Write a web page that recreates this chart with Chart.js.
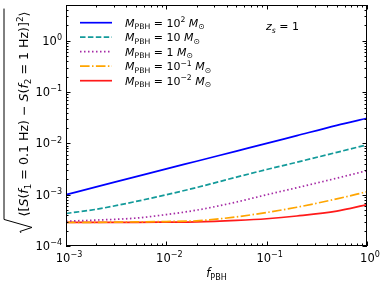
<!DOCTYPE html>
<html>
<head>
<meta charset="utf-8">
<script src="https://cdn.jsdelivr.net/npm/chart.js@4.4.1/dist/chart.umd.min.js"></script>
<style>
  html, body { margin: 0; padding: 0; background: #fff; }
  #wrap { width: 382px; height: 284px; }
</style>
</head>
<body>
<div id="wrap"><canvas id="c" width="382" height="284"></canvas></div>
<script>
// f_PBH sample points and curves
const fPBH = [1e-3, 2e-3, 5e-3, 1e-2, 2e-2, 5e-2, 0.1, 0.2, 0.5, 1];

const m100  = [1.0e-3, 1.42e-3, 2.25e-3, 3.2e-3, 4.5e-3, 7.1e-3, 1.0e-2, 1.42e-2, 2.25e-2, 3.1e-2];
const m10   = [4.3e-4, 5.2e-4, 7.4e-4, 1.0e-3, 1.38e-3, 2.2e-3, 3.1e-3, 4.3e-3, 6.7e-3, 9.4e-3];
const m1    = [3.05e-4, 3.2e-4, 3.5e-4, 4.1e-4, 5.0e-4, 7.2e-4, 1.0e-3, 1.37e-3, 2.1e-3, 2.95e-3];
const m01   = [2.9e-4, 2.9e-4, 2.95e-4, 3.0e-4, 3.1e-4, 3.7e-4, 4.5e-4, 5.7e-4, 8.3e-4, 1.14e-3];
const m001  = [2.9e-4, 2.9e-4, 2.9e-4, 2.92e-4, 2.95e-4, 3.15e-4, 3.4e-4, 3.85e-4, 4.8e-4, 6.4e-4];

const massExp = ['2', '', '', '-1', '-2'];   // 10^x M_sun, '' means plain number
const massTxt = ['10', '10', '1', '10', '10'];
const xTicks = [1e-3, 1e-2, 1e-1, 1];
const xTickExp = ['\u22123', '\u22122', '\u22121', '0'];
const yTicks = [1e-4, 1e-3, 1e-2, 1e-1, 1];
const yTickExp = ['\u22124', '\u22123', '\u22122', '\u22121', '0'];

const series = [m100, m10, m1, m01, m001];
const colors = ['#0000ff', '#139a9a', '#a52aa5', '#ffa500', '#ff1a1a'];
const dashes = [[], [5.5, 2.4], [1.5, 2.5], [9.6, 2.4, 1.5, 2.4], []];

const FONT = '"DejaVu Sans", sans-serif';

// draw text made of pieces: [text, mode('n'|'sub'|'sup'), italic]
function rich(ctx, parts, x, y, fs, align) {
  let w = 0;
  const measured = parts.map(p => {
    const size = p[1] === 'n' ? fs : fs * 0.7;
    ctx.font = (p[2] ? 'italic ' : '') + size + 'px ' + FONT;
    const pw = ctx.measureText(p[0]).width;
    w += pw;
    return { p, size, pw };
  });
  let cx = x;
  if (align === 'center') cx = x - w / 2;
  if (align === 'right') cx = x - w;
  measured.forEach(m => {
    ctx.font = (m.p[2] ? 'italic ' : '') + m.size + 'px ' + FONT;
    let dy = 0;
    if (m.p[1] === 'sub') dy = fs * 0.25;
    if (m.p[1] === 'sup') dy = -fs * 0.42;
    ctx.fillText(m.p[0], cx, y + dy);
    cx += m.pw;
  });
  return w;
}

const decor = {
  id: 'decor',
  afterDraw(chart) {
    const ctx = chart.ctx;
    const a = chart.chartArea;
    const xs = chart.scales.x, ys = chart.scales.y;
    ctx.save();
    ctx.fillStyle = '#000';
    ctx.strokeStyle = '#000';
    ctx.textBaseline = 'alphabetic';

    // frame
    ctx.lineWidth = 1;
    ctx.strokeRect(a.left + 0.5, a.top + 0.5, a.right - a.left - 1, a.bottom - a.top - 1);

    // inward ticks, all sides
    ctx.beginPath();
    for (let d = -3; d <= 0; d++) {
      for (let k = 1; k <= 9; k++) {
        const v = k * Math.pow(10, d);
        if (v > 1) break;
        const px = Math.round(xs.getPixelForValue(v)) + 0.5;
        const len = k === 1 ? 4.5 : 2.5;
        ctx.moveTo(px, a.bottom); ctx.lineTo(px, a.bottom - len);
        ctx.moveTo(px, a.top); ctx.lineTo(px, a.top + len);
      }
    }
    for (let d = -4; d <= 0; d++) {
      for (let k = 1; k <= 9; k++) {
        const v = k * Math.pow(10, d);
        if (v > 5) break;
        const py = Math.round(ys.getPixelForValue(v)) + 0.5;
        const len = k === 1 ? 4.5 : 2.5;
        ctx.moveTo(a.left, py); ctx.lineTo(a.left + len, py);
        ctx.moveTo(a.right, py); ctx.lineTo(a.right - len, py);
      }
    }
    ctx.stroke();

    // tick labels
    xTicks.forEach((v, i) => {
      rich(ctx, [['10', 'n'], [xTickExp[i], 'sup']], xs.getPixelForValue(v) + 3, a.bottom + 16, 11.5, 'center');
    });
    yTicks.forEach((v, i) => {
      rich(ctx, [['10', 'n'], [yTickExp[i], 'sup']], a.left - 4, ys.getPixelForValue(v) + 4, 11.5, 'right');
    });

    // x title
    rich(ctx, [['f', 'n', true], ['PBH', 'sub']], (a.left + a.right) / 2, 277, 11.5, 'center');

    // y title, rotated, with a radical sign
    ctx.save();
    ctx.translate(24, 114);
    ctx.rotate(-Math.PI / 2);
    const tw = rich(ctx, [
      ['\u27e8[', 'n'], ['S', 'n', true], ['(', 'n'], ['f', 'n', true], ['1', 'sub'],
      [' = 0.1 Hz) \u2212 ', 'n'], ['S', 'n', true], ['(', 'n'], ['f', 'n', true], ['2', 'sub'],
      [' = 1 Hz)]', 'n'], ['2', 'sup'], ['\u27e9', 'n']
    ], 0, 4, 12.6, 'center');
    const e = -tw / 2 - 3;
    ctx.lineWidth = 1;
    ctx.beginPath();
    ctx.moveTo(tw / 2 + 3, -20);
    ctx.lineTo(e, -20);
    ctx.lineTo(e - 8, 8);
    ctx.lineTo(e - 12, -4);
    ctx.lineTo(e - 13.5, -3);
    ctx.stroke();
    ctx.restore();

    // legend
    series.forEach((s, i) => {
      const y = 22.7 + i * 14.5;
      ctx.save();
      ctx.strokeStyle = colors[i];
      ctx.lineWidth = 1.7;
      ctx.setLineDash(dashes[i]);
      ctx.beginPath();
      ctx.moveTo(80, y); ctx.lineTo(112, y);
      ctx.stroke();
      ctx.restore();
      const parts = [['M', 'n', true], ['PBH', 'sub'], [' = ' + massTxt[i], 'n']];
      if (massExp[i]) parts.push([massExp[i].replace('-', '\u2212'), 'sup']);
      parts.push([' ', 'n'], ['M', 'n', true], ['\u2299', 'sub']);
      rich(ctx, parts, 125, y + 4, 11, 'left');
    });

    // z_s = 1
    rich(ctx, [['z', 'n', true], ['s', 'sub', true], [' = 1', 'n']], 266, 30, 11, 'left');

    ctx.restore();
  }
};

const datasets = series.map((s, i) => ({
  data: fPBH.map((f, j) => ({ x: f, y: s[j] })),
  borderColor: colors[i],
  borderWidth: 1.7,
  borderDash: dashes[i],
  pointRadius: 0,
  cubicInterpolationMode: 'monotone',
  fill: false
}));

new Chart(document.getElementById('c'), {
  type: 'line',
  data: { datasets },
  options: {
    responsive: false,
    animation: false,
    devicePixelRatio: 1,
    layout: { padding: { left: 66, right: 15, top: 5, bottom: 38 } },
    plugins: { legend: { display: false }, tooltip: { enabled: false } },
    scales: {
      x: { type: 'logarithmic', min: 1e-3, max: 1, display: false },
      y: { type: 'logarithmic', min: 1e-4, max: 5, display: false }
    }
  },
  plugins: [decor]
});
</script>
</body>
</html>
